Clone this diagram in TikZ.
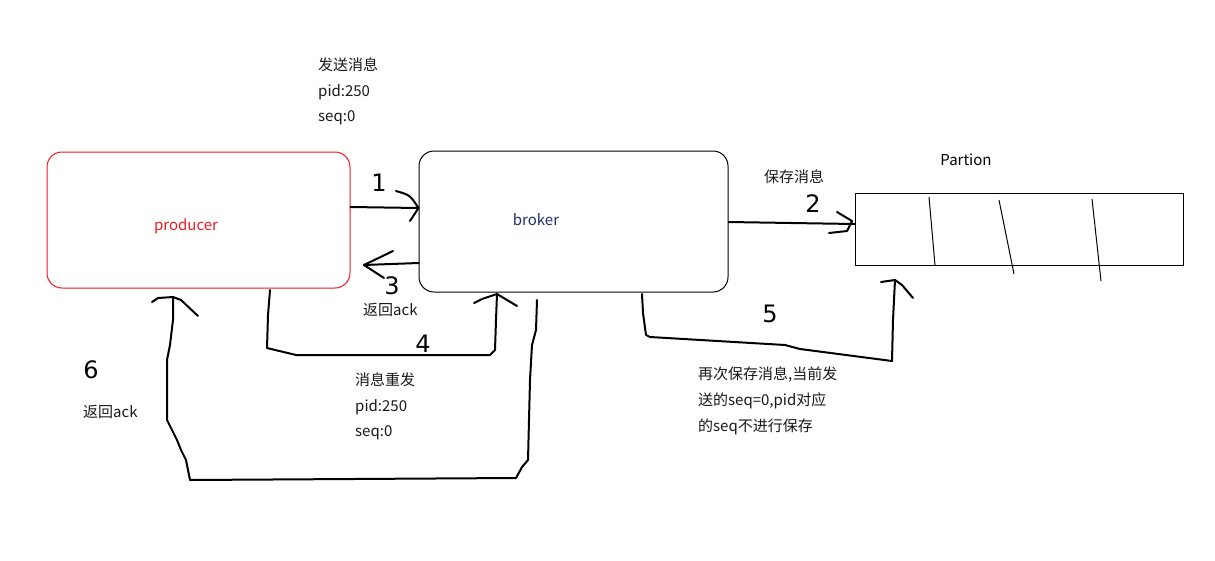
\documentclass[tikz,border=0pt]{standalone}
\usepackage{fontspec}
\setmainfont{Noto Sans CJK SC}
\newfontfamily\hand{DejaVu Sans}
\begin{document}
\begin{tikzpicture}[x=1pt,y=-1pt,
  lbl/.style={anchor=north west,inner sep=0pt,font=\fontsize{15}{15}\selectfont,text=black!90},
  num/.style={inner sep=0pt,font=\hand\fontsize{24}{24}\selectfont},
  ink/.style={line width=2pt,line cap=round,line join=round},
  thin/.style={line width=1pt}]
\useasboundingbox[fill=white] (0,0) rectangle (1215,560);
% boxes
\node[draw={rgb,255:red,237;green,28;blue,36},thin,rounded corners=15pt,minimum width=303pt,minimum height=136pt,inner sep=0pt] (producer) at (198.5,220) {};
\node[text={rgb,255:red,237;green,28;blue,36},font=\fontsize{15}{15}\selectfont] (prodlbl) at (186,226) {producer};
\node[draw=black,thin,rounded corners=15pt,minimum width=309pt,minimum height=141pt,inner sep=0pt] (broker) at (573.5,221.5) {};
\node[text={rgb,255:red,32;green,48;blue,100},font=\fontsize{15}{15}\selectfont] (broklbl) at (536,220) {broker};
\node[draw=black,thin,minimum width=328pt,minimum height=72pt,inner sep=0pt] (partion) at (1019,229) {};
\node[font=\fontsize{15}{15}\selectfont] (partlbl) at (966,160) {Partion};
% partition slashes
\draw[thin] (929,197) -- (935,265);
\draw[thin] (999,200) -- (1014,274);
\draw[thin] (1092,199) -- (1101,281);
% texts
\node[lbl] (t1) at (318,58) {发送消息};
\node[lbl] (t2) at (318,84) {pid:250};
\node[lbl] (t3) at (318,110) {seq:0};
\node[lbl] (t4) at (363,303) {返回ack};
\node[lbl] (t5) at (355,373) {消息重发};
\node[lbl] (t6) at (355,399) {pid:250};
\node[lbl] (t7) at (355,425) {seq:0};
\node[lbl] (t8) at (83,405) {返回ack};
\node[lbl] (t9) at (764,170) {保存消息};
\node[lbl] (t10) at (698,367) {再次保存消息,当前发};
\node[lbl] (t11) at (698,393) {送的seq=0,pid对应};
\node[lbl] (t12) at (698,419) {的seq不进行保存};
% hand numbers
\node[num] (n1) at (379,183) {1};
\node[num] (n2) at (813,204) {2};
\node[num] (n3) at (392,286) {3};
\node[num] (n4) at (423,344) {4};
\node[num] (n5) at (770,314) {5};
\node[num] (n6) at (91,370) {6};
% arrow 1
\coordinate (a1s) at (producer.east |- 0,207);
\coordinate (a1e) at (broker.west |- 0,208);
\draw[ink] (a1s) -- (a1e);
\draw[ink] (396,191) .. controls (410,195) .. (a1e) -- (410,221);
% arrow 3
\coordinate (a3s) at (broker.west |- 0,263);
\coordinate (a3e) at (364,265);
\draw[ink] (a3s) -- (a3e);
\draw[ink] (393,251) -- (a3e) -- (384,278);
% arrow 2
\coordinate (a2s) at (broker.east |- 0,222);
\coordinate (a2e) at (partion.west |- 0,224);
\draw[ink] (a2s) -- (a2e);
\draw[ink] (837,212) -- (852,221) -- (847,231) -- (829,233);
% arrow 4
\coordinate (a4s) at (270,290);
\coordinate (a4e) at (497,294);
\draw[ink] (a4s) -- (268,315) -- (267,348) -- (296,355) -- (490,355) -- (495,350) -- (496,320) -- (a4e);
\draw[ink] (474,303) -- (482,299) -- (a4e) -- (517,306);
% arrow 6
\coordinate (a6s) at (537,300);
\coordinate (a6e) at (173,297);
\draw[ink] (a6s) -- (536,330) -- (532,345) -- (530,380) -- (528,460) -- (522,467) -- (516,478) -- (190,480) -- (186,460) -- (181,450) -- (177,440) -- (167,420) -- (167,360) -- (170,345) -- (173,320) -- (a6e);
\draw[ink] (152,302) -- (158,298) -- (a6e) -- (181,300) -- (198,316);
% arrow 5
\coordinate (a5s) at (642,294);
\coordinate (a5e) at (895,280);
\draw[ink] (a5s) -- (643,313) -- (646,335) -- (650,337) -- (785,345) -- (800,349) -- (892,361) -- (893,320) -- (a5e);
\draw[ink] (881,282) -- (a5e) -- (902,285) -- (913,298);
\end{tikzpicture}
\end{document}
